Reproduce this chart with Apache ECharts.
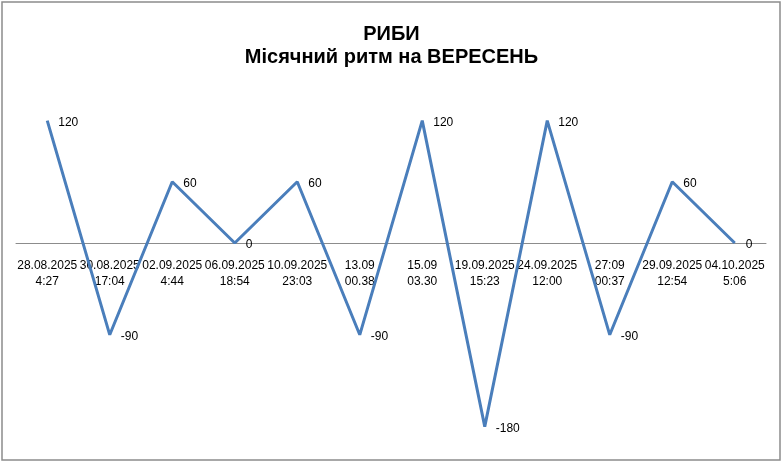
<!DOCTYPE html>
<html>
<head>
<meta charset="utf-8">
<script src="https://cdn.jsdelivr.net/npm/echarts@6/dist/echarts.min.js"></script>
<style>
  html, body { margin: 0; padding: 0; background: #fff; }
  #chart { width: 783px; height: 463px; }
</style>
</head>
<body>
<div id="chart"></div>
<script>
// дати фаз (два рядки підпису)
const dates = [
  "28.08.2025\n4:27", "30.08.2025\n17:04", "02.09.2025\n4:44", "06.09.2025\n18:54",
  "10.09.2025\n23:03", "13.09\n00.38", "15.09\n03.30", "19.09.2025\n15:23",
  "24.09.2025\n12:00", "27:09\n00:37", "29.09.2025\n12:54", "04.10.2025\n5:06"
];
const rhythm = [120, -90, 60, 0, 60, -90, 120, -180, 120, -90, 60, 0];
const titleLines = ["РИБИ", "Місячний ритм на ВЕРЕСЕНЬ"];

const chart = echarts.init(document.getElementById("chart"));
chart.setOption({
  animation: false,
  textStyle: { fontFamily: "Liberation Sans, Arial, sans-serif" },
  title: {
    text: titleLines[0] + "\n" + titleLines[1],
    left: "center",
    top: 18,
    textStyle: { fontSize: 20, fontWeight: "bold", color: "#000", lineHeight: 23 }
  },
  graphic: [{
    type: "rect",
    shape: { x: 2, y: 2, width: 778, height: 458 },
    style: { fill: "none", stroke: "#8c8c8c", lineWidth: 1.5 },
    silent: true
  }],
  // основна сітка з лінією та друга — лише для підписів під нулем
  grid: [
    { left: 16, right: 17, top: 90, bottom: 16, containLabel: false, outerBoundsMode: "none" },
    { left: 16, right: 17, top: 90, bottom: 220, containLabel: false, outerBoundsMode: "none" }
  ],
  xAxis: [{
    type: "category",
    gridIndex: 0,
    data: dates,
    boundaryGap: true,
    axisLine: { onZero: true, lineStyle: { color: "#8c8c8c", width: 1 } },
    axisTick: { show: false },
    axisLabel: { show: false }
  }, {
    type: "category",
    gridIndex: 1,
    data: dates,
    boundaryGap: true,
    position: "bottom",
    axisLine: { show: false },
    axisTick: { show: false },
    axisLabel: {
      interval: 0,
      color: "#000",
      fontSize: 12,
      lineHeight: 16,
      margin: 15
    }
  }],
  yAxis: [{
    type: "value",
    gridIndex: 0,
    min: -200,
    max: 150,
    show: false,
    splitLine: { show: false }
  }, {
    type: "value",
    gridIndex: 1,
    min: 0,
    max: 150,
    show: false,
    splitLine: { show: false }
  }],
  series: [{
    type: "line",
    xAxisIndex: 0,
    yAxisIndex: 0,
    data: rhythm,
    symbol: "circle",
    symbolSize: 0,
    showSymbol: true,
    itemStyle: { color: "#4a7ebb" },
    lineStyle: { color: "#4a7ebb", width: 3 },
    label: {
      show: true,
      position: "right",
      distance: 11,
      offset: [0, 2],
      color: "#000",
      fontSize: 12
    }
  }]
});
</script>
</body>
</html>
